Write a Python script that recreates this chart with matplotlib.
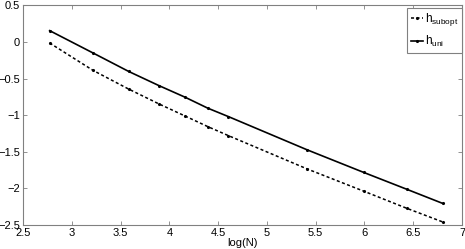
import numpy as np
import matplotlib.pyplot as plt

plt.rcParams['font.family'] = ['Liberation Sans', 'DejaVu Sans']
plt.rcParams['mathtext.fontset'] = 'custom'
plt.rcParams['mathtext.rm'] = 'Liberation Sans'
plt.rcParams['mathtext.it'] = 'Liberation Sans'

# data
log_n = [2.773, 3.219, 3.584, 3.892, 4.159, 4.394, 4.605, 5.416, 5.991, 6.438, 6.802]
h_subopt = [-0.014, -0.389, -0.644, -0.845, -1.010, -1.156, -1.279, -1.736, -2.037, -2.274, -2.458]
h_uni = [0.155, -0.151, -0.403, -0.595, -0.753, -0.904, -1.019, -1.475, -1.781, -2.014, -2.205]

fig = plt.figure(figsize=(4.65, 2.49), dpi=100)
ax = fig.add_axes([0.0495, 0.0964, 0.944, 0.882])

ax.plot(log_n, h_subopt, color='black', linestyle=(0, (2, 1.6)), linewidth=1.1,
        marker='.', markersize=2.5, label=r'$\mathregular{h_{subopt}}$')
ax.plot(log_n, h_uni, color='black', linestyle='-', linewidth=1.2,
        marker='.', markersize=2.5, label=r'$\mathregular{h_{uni}}$')

ax.set_xlim(2.5, 7)
ax.set_ylim(-2.5, 0.5)
ax.set_xticks(np.arange(2.5, 7.01, 0.5))
ax.set_yticks(np.arange(-2.5, 0.51, 0.5))
ax.set_xticklabels(['2.5', '3', '3.5', '4', '4.5', '5', '5.5', '6', '6.5', '7'])
ax.set_yticklabels(['\u22122.5', '\u22122', '\u22121.5', '\u22121', '\u22120.5', '0', '0.5'])
ax.tick_params(direction='in', length=3, width=0.6, color='#808080',
               labelsize=8, top=True, right=True, pad=2)
for s in ax.spines.values():
    s.set_color('#808080')
    s.set_linewidth(0.8)

ax.set_xlabel('log(N)', fontsize=8, labelpad=0)

leg = ax.legend(loc='upper right', bbox_to_anchor=(1, 0.99), borderaxespad=0,
                fontsize=8.5, handlelength=1.0, handletextpad=0.2,
                labelspacing=0.5, borderpad=0.3, fancybox=False, framealpha=1)
leg.get_frame().set_edgecolor('#808080')
leg.get_frame().set_linewidth(0.8)

fig.savefig('out.png', dpi=100)
